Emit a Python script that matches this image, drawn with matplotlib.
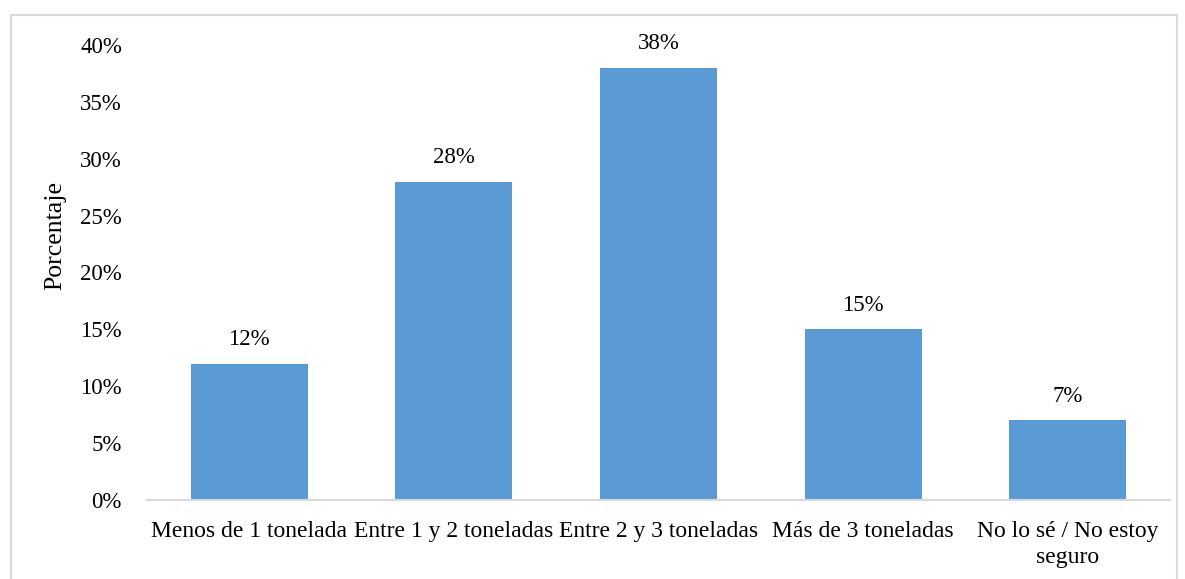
import matplotlib
matplotlib.use("Agg")
import matplotlib.pyplot as plt
from matplotlib.lines import Line2D

categories = ["Menos de 1 tonelada", "Entre 1 y 2 toneladas", "Entre 2 y 3 toneladas",
              "Más de 3 toneladas", "No lo sé / No estoy\nseguro"]
values = [12, 28, 38, 15, 7]
yticks = [0, 5, 10, 15, 20, 25, 30, 35, 40]

plt.rcParams['font.family'] = ['Liberation Serif', 'DejaVu Serif']

W, H = 1185, 579
fig = plt.figure(figsize=(W / 100, H / 100), dpi=100)
ax = fig.add_axes([147 / W, 1 - 500 / H, (1170 - 147) / W, (500 - 45) / H])

x = range(len(categories))
ax.bar(x, values, width=0.572, color="#5B9BD5", zorder=2)
for xi, v in zip(x, values):
    ax.text(xi, v + 1.2, f"{v}%", ha="center", va="bottom", fontsize=16.5)

ax.set_xlim(-0.5, len(categories) - 0.5)
ax.set_ylim(0, 40)
ax.set_yticks(yticks)
ax.set_yticklabels([f"{t}%" for t in yticks], fontsize=16.5)
ax.set_xticks(list(x))
ax.set_xticklabels(categories, fontsize=17, linespacing=1.35)
ax.tick_params(axis="both", length=0)
ax.tick_params(axis="y", pad=18)
ax.tick_params(axis="x", pad=15)
for s in ["top", "right", "left"]:
    ax.spines[s].set_visible(False)
ax.spines["bottom"].set_color("#d9d9d9")
ax.spines["bottom"].set_linewidth(1.5)
ax.spines["bottom"].set_zorder(3)
ax.set_ylabel("Porcentaje", fontsize=18.5)
ax.yaxis.set_label_coords(-(147 - 66) / (1170 - 147), (500 - 236) / (500 - 45))

# figure border
bc = "#d9d9d9"
l, r, t, b = 10.5 / W, 1176.5 / W, 1 - 14.5 / H, -0.01
for xs, ys in [([l, r], [t, t]), ([l, l], [b, t]), ([r, r], [b, t])]:
    fig.add_artist(Line2D(xs, ys, color=bc, lw=1.5, transform=fig.transFigure))

fig.savefig("out.png", dpi=100)
